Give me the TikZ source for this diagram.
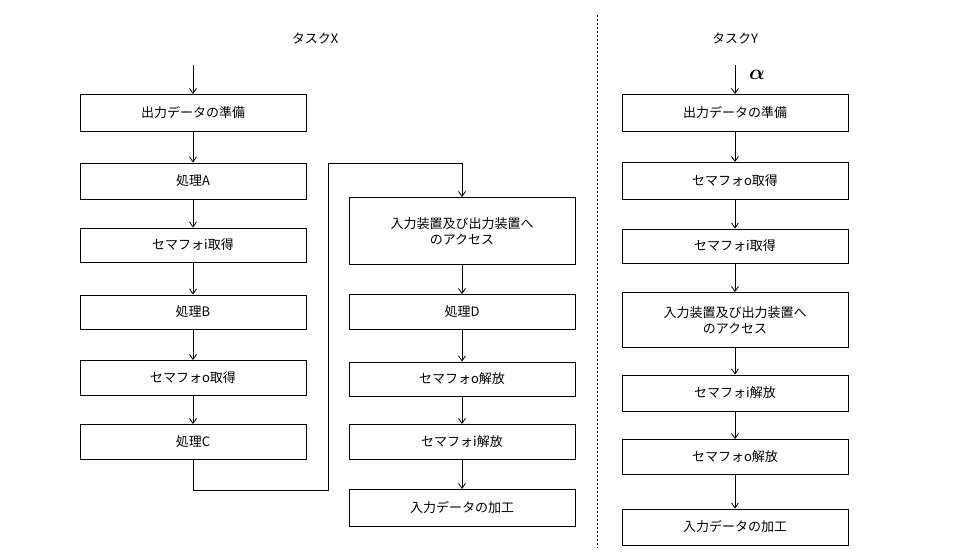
\documentclass[tikz,border=0pt]{standalone}
\usepackage{amsmath,bm}
\usepackage{fontspec}
\setmainfont{Noto Sans CJK JP}
\usetikzlibrary{arrows.meta}
\begin{document}
\begin{tikzpicture}[x=1pt,y=-1pt,
 box/.style={draw,line width=0.9pt,minimum width=226pt,inner sep=0pt,font=\fontsize{13}{16}\selectfont,align=center},
 ar/.style={-{Straight Barb[length=5pt,width=7pt]},line width=0.8pt}]
\useasboundingbox (0,0) rectangle (975,552);
\node at (315,38) {\fontsize{13}{16}\selectfont タスクX};
\node at (735,38) {\fontsize{13}{16}\selectfont タスクY};
\draw[dash pattern=on 2pt off 2pt] (597,15) -- (597,548);
% left
\coordinate (ls) at (193,65);
\node[box,minimum height=37pt] (l1) at (193,113) {出力データの準備};
\node[box,minimum height=36pt] (l2) at (193,181) {処理A};
\node[box,minimum height=34pt] (l3) at (193,245) {セマフォi取得};
\node[box,minimum height=34pt] (l4) at (193,312) {処理B};
\node[box,minimum height=35pt] (l5) at (193,378) {セマフォo取得};
\node[box,minimum height=35pt] (l6) at (193,442) {処理C};
\draw[ar] (ls) -- (l1);
\foreach \a/\b in {l1/l2,l2/l3,l3/l4,l4/l5,l5/l6}{\draw[ar] (\a) -- (\b);}
% middle
\node[box,minimum height=67pt] (m1) at (462,231) {入力装置及び出力装置へ\\のアクセス};
\node[box,minimum height=35pt] (m2) at (462,312) {処理D};
\node[box,minimum height=34pt] (m3) at (462,379) {セマフォo解放};
\node[box,minimum height=35pt] (m4) at (462,442) {セマフォi解放};
\node[box,minimum height=37pt] (m5) at (462,508) {入力データの加工};
\draw[ar] (l6.south) -- (193,490) -- (328,490) -- (328,163) -- (462,163) -- (m1.north);
\foreach \a/\b in {m1/m2,m2/m3,m3/m4,m4/m5}{\draw[ar] (\a) -- (\b);}
% right
\coordinate (rs) at (735,65);
\node[box,minimum height=37pt] (r1) at (735,113) {出力データの準備};
\node[box,minimum height=37pt] (r2) at (735,181) {セマフォo取得};
\node[box,minimum height=34pt] (r3) at (735,246) {セマフォi取得};
\node[box,minimum height=55pt] (r4) at (735,320) {入力装置及び出力装置へ\\のアクセス};
\node[box,minimum height=36pt] (r5) at (735,393) {セマフォi解放};
\node[box,minimum height=35pt] (r6) at (735,457) {セマフォo解放};
\node[box,minimum height=36pt] (r7) at (735,527) {入力データの加工};
\draw[ar] (rs) -- (r1);
\node at (757,75) {\fontsize{20}{20}\selectfont$\bm{\alpha}$};
\foreach \a/\b in {r1/r2,r2/r3,r3/r4,r4/r5,r5/r6,r6/r7}{\draw[ar] (\a) -- (\b);}
\end{tikzpicture}
\end{document}
